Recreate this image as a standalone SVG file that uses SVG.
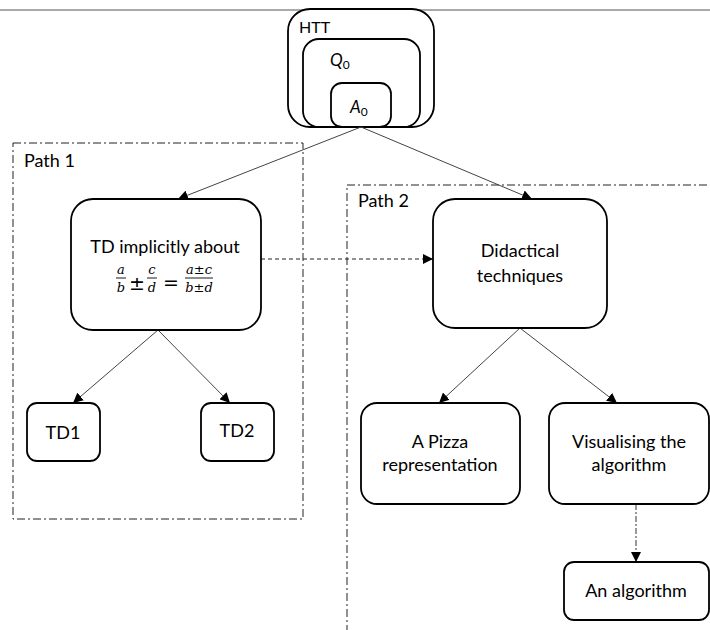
<svg xmlns="http://www.w3.org/2000/svg" width="710" height="630" viewBox="0 0 710 630">
<style>
.box{fill:#fff;stroke:#000;stroke-width:1.8}
.frame{fill:none;stroke:#222;stroke-width:1;stroke-dasharray:8 3 2 3}
.t{font-family:Lato,"Open Sans",sans-serif;font-size:18px;fill:#000;text-anchor:middle}
.tl{font-family:Lato,"Open Sans",sans-serif;font-size:18px;fill:#000}
.m{font-family:"DejaVu Serif","Liberation Serif",serif;font-style:italic;font-size:13px;fill:#000;text-anchor:middle}
.op{font-family:"DejaVu Sans","Liberation Sans",sans-serif;font-size:19px;fill:#000;text-anchor:middle}
.mo{font-family:"DejaVu Sans","Liberation Sans",sans-serif;font-size:13px;font-style:normal}
.c{fill:none;stroke:#444;stroke-width:1}
.d{fill:none;stroke:#222;stroke-width:1;stroke-dasharray:4 3}
.dd{fill:none;stroke:#333;stroke-width:1;stroke-dasharray:6 2 2 2}
</style>
<defs>
<marker id="ah" viewBox="0 0 10 10" refX="10" refY="5" markerWidth="10" markerHeight="10" markerUnits="userSpaceOnUse" orient="auto">
<path d="M0,0 L10,5 L0,10 z" fill="#000"/>
</marker>
</defs>
<rect width="710" height="630" fill="#fff"/>
<line x1="0" y1="10" x2="710" y2="10" stroke="#555" stroke-width="1"/>

<g id="path1">
<rect class="frame" x="13" y="143" width="290" height="376"/>
<text class="tl" x="24" y="167">Path 1</text>
</g>
<g id="path2">
<rect class="frame" x="347" y="185" width="380" height="460"/>
<text class="tl" x="358" y="207">Path 2</text>
</g>

<g id="htt">
<rect class="box" x="288" y="9" width="146" height="118" rx="22"/>
<text class="tl" x="299" y="33" style="font-size:16px">HTT</text>
</g>
<g id="q0">
<rect class="box" x="303" y="39" width="117" height="88" rx="16"/>
<text class="tl" x="330" y="66" style="font-size:17px;font-style:italic">Q<tspan style="font-style:normal;font-size:12px" dy="3">0</tspan></text>
</g>
<g id="a0">
<rect class="box" x="331" y="83" width="60" height="44" rx="11"/>
<text class="tl" x="350" y="113" style="font-size:17px;font-style:italic">A<tspan style="font-style:normal;font-size:12px" dy="3">0</tspan></text>
</g>

<g id="connectors">
<line class="c" x1="361" y1="127" x2="178" y2="199" marker-end="url(#ah)"/>
<line class="c" x1="361" y1="127" x2="532" y2="199" marker-end="url(#ah)"/>
<line class="d" x1="261" y1="259" x2="433" y2="259" marker-end="url(#ah)"/>
<line class="c" x1="158" y1="330" x2="73" y2="403" marker-end="url(#ah)"/>
<line class="c" x1="158" y1="330" x2="230" y2="403" marker-end="url(#ah)"/>
<line class="c" x1="520" y1="328" x2="439" y2="403" marker-end="url(#ah)"/>
<line class="c" x1="520" y1="328" x2="617" y2="403" marker-end="url(#ah)"/>
<line class="dd" x1="636" y1="504" x2="636" y2="562" marker-end="url(#ah)"/>
</g>

<g id="td">
<rect class="box" x="71" y="199" width="190" height="131" rx="22"/>
<text class="t" x="165" y="253">TD implicitly about</text>
<text class="m" x="121" y="274">a</text>
<line x1="116" y1="278" x2="126" y2="278" stroke="#000" stroke-width="0.9"/>
<text class="m" x="121" y="292">b</text>
<text class="op" x="137" y="290">±</text>
<text class="m" x="152" y="274">c</text>
<line x1="147" y1="278" x2="157" y2="278" stroke="#000" stroke-width="0.9"/>
<text class="m" x="152" y="292">d</text>
<text class="op" x="171" y="289">=</text>
<text class="m" x="199" y="274">a<tspan class="mo">±</tspan>c</text>
<line x1="185" y1="278" x2="213" y2="278" stroke="#000" stroke-width="0.9"/>
<text class="m" x="199" y="292">b<tspan class="mo">±</tspan>d</text>
</g>

<g id="didactical">
<rect class="box" x="433" y="199" width="174" height="129" rx="22"/>
<text class="t" x="520" y="257">Didactical</text>
<text class="t" x="520" y="282">techniques</text>
</g>

<g id="td1">
<rect class="box" x="27" y="403" width="73" height="58" rx="10"/>
<text class="t" x="63" y="439">TD1</text>
</g>
<g id="td2">
<rect class="box" x="201" y="403" width="73" height="58" rx="10"/>
<text class="t" x="237" y="437">TD2</text>
</g>

<g id="pizza">
<rect class="box" x="361" y="403" width="159" height="101" rx="16"/>
<text class="t" x="440" y="448">A Pizza</text>
<text class="t" x="440" y="471">representation</text>
</g>
<g id="visualising">
<rect class="box" x="549" y="403" width="160" height="101" rx="16"/>
<text class="t" x="629" y="448">Visualising the</text>
<text class="t" x="629" y="471">algorithm</text>
</g>
<g id="algorithm">
<rect class="box" x="564" y="562" width="145" height="58" rx="10"/>
<text class="t" x="636" y="597">An algorithm</text>
</g>
</svg>
